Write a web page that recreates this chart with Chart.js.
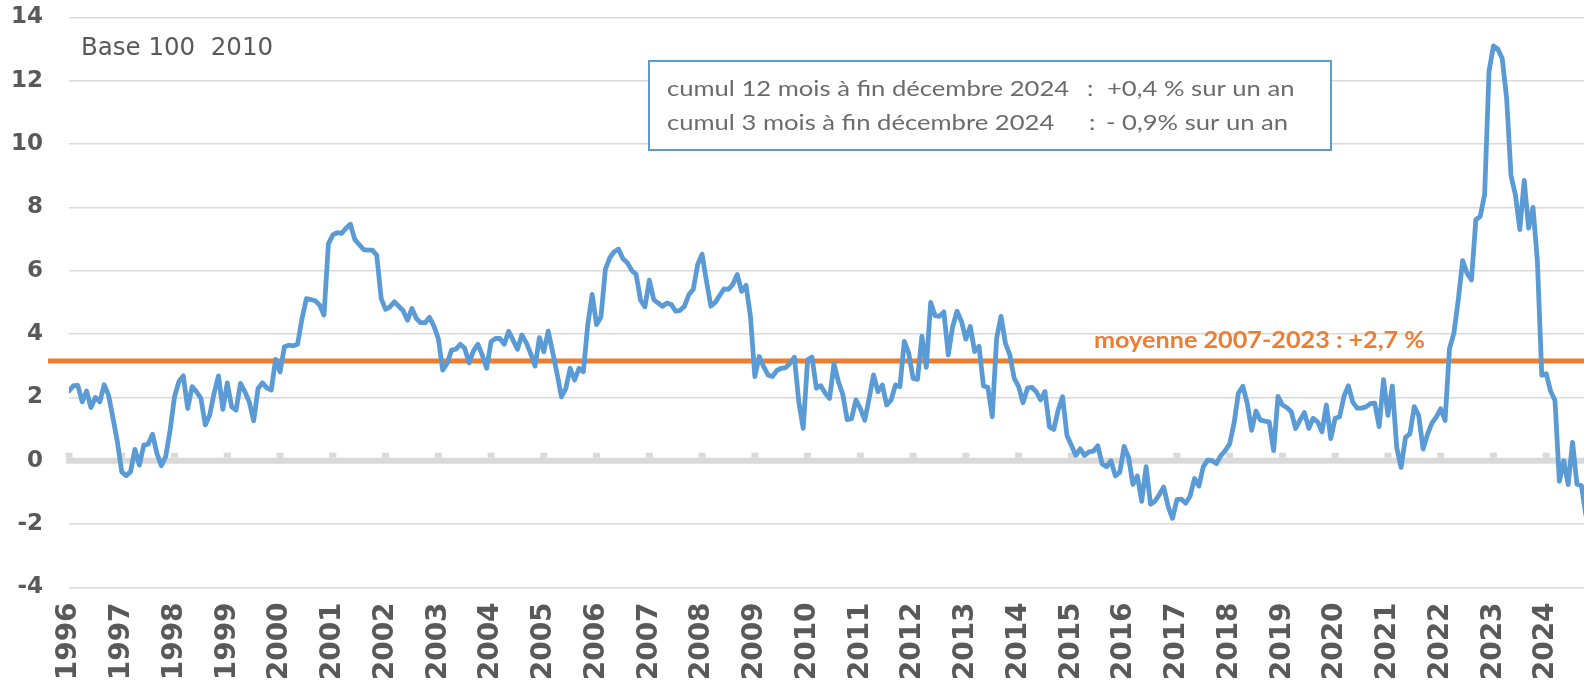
<!DOCTYPE html>
<html><head><meta charset="utf-8">
<script src="https://cdn.jsdelivr.net/npm/chart.js@4.4.1/dist/chart.umd.min.js"></script>
<style>html,body{margin:0;padding:0;background:#fff;overflow:hidden}#wrap{position:relative;width:1584px;height:684px}</style>
</head><body><div id="wrap"><canvas id="c" width="1584" height="684"></canvas></div>
<script>
// ---- DATA ----
const yearLabels = ['1996','1997','1998','1999','2000','2001','2002','2003','2004','2005','2006','2007','2008','2009','2010','2011','2012','2013','2014','2015','2016','2017','2018','2019','2020','2021','2022','2023','2024'];
const yTicks = [-4,-2,0,2,4,6,8,10,12,14];
// monthly values, January 1996 onwards
const monthlyValues = [
 2.2, 2.37, 2.38, 1.86, 2.2, 1.68, 2.0, 1.86, 2.4, 2.07, 1.35, 0.6,
 -0.35, -0.47, -0.35, 0.36, -0.14, 0.49, 0.52, 0.84, 0.23, -0.16, 0.13, 0.97,
 2.02, 2.5, 2.68, 1.65, 2.34, 2.18, 1.97, 1.13, 1.44, 2.13, 2.68, 1.62,
 2.46, 1.7, 1.6, 2.44, 2.18, 1.86, 1.26, 2.28, 2.46, 2.3, 2.23, 3.2,
 2.8, 3.6, 3.65, 3.63, 3.68, 4.49, 5.12, 5.09, 5.05, 4.92, 4.6, 6.85,
 7.13, 7.2, 7.18, 7.34, 7.47, 6.99, 6.83, 6.67, 6.65, 6.65, 6.49, 5.13,
 4.78, 4.86, 5.02, 4.88, 4.74, 4.44, 4.81, 4.49, 4.36, 4.36, 4.53, 4.25,
 3.86, 2.86, 3.07, 3.49, 3.52, 3.68, 3.55, 3.09, 3.47, 3.68, 3.34, 2.92,
 3.76, 3.86, 3.86, 3.68, 4.09, 3.81, 3.52, 3.97, 3.73, 3.39, 2.99, 3.89,
 3.44, 4.09, 3.44, 2.76, 2.02, 2.28, 2.92, 2.55, 2.92, 2.81, 4.3, 5.25,
 4.3, 4.54, 6.04, 6.41, 6.6, 6.68, 6.38, 6.25, 6.01, 5.88, 5.07, 4.86,
 5.7, 5.09, 4.98, 4.88, 4.98, 4.93, 4.72, 4.75, 4.88, 5.25, 5.41, 6.2,
 6.52, 5.67, 4.88, 5.0, 5.22, 5.43, 5.41, 5.57, 5.88, 5.35, 5.54, 4.56,
 2.66, 3.29, 2.97, 2.71, 2.66, 2.85, 2.92, 2.94, 3.08, 3.27, 1.86, 1.02,
 3.19, 3.27, 2.29, 2.37, 2.13, 1.97, 3.06, 2.5, 2.1, 1.3, 1.33, 1.92,
 1.65, 1.28, 1.97, 2.71, 2.18, 2.39, 1.76, 1.92, 2.39, 2.34, 3.77, 3.4,
 2.6, 2.57, 3.93, 2.95, 5.0, 4.58, 4.56, 4.7, 3.34, 4.24, 4.72, 4.4,
 3.84, 4.24, 3.45, 3.61, 2.36, 2.32, 1.39, 3.87, 4.56, 3.71, 3.34, 2.6,
 2.34, 1.83, 2.29, 2.32, 2.18, 1.92, 2.18, 1.07, 0.99, 1.6, 2.02, 0.8,
 0.49, 0.17, 0.38, 0.17, 0.28, 0.3, 0.47, -0.1, -0.19, 0.0, -0.48, -0.37,
 0.45, 0.11, -0.75, -0.48, -1.28, -0.19, -1.37, -1.28, -1.07, -0.83, -1.44, -1.82,
 -1.23, -1.21, -1.34, -1.12, -0.56, -0.8, -0.19, 0.02, 0.0, -0.09, 0.16, 0.32,
 0.53, 1.18, 2.14, 2.35, 1.82, 0.96, 1.57, 1.28, 1.25, 1.23, 0.32, 2.03,
 1.76, 1.68, 1.55, 1.02, 1.28, 1.52, 1.02, 1.34, 1.23, 0.91, 1.76, 0.7,
 1.34, 1.39, 2.03, 2.37, 1.85, 1.66, 1.66, 1.7, 1.8, 1.82, 1.08, 2.56,
 1.43, 2.36, 0.42, -0.21, 0.74, 0.85, 1.71, 1.43, 0.37, 0.83, 1.19, 1.38,
 1.64, 1.27, 3.54, 4.02, 5.08, 6.32, 5.92, 5.71, 7.61, 7.72, 8.41, 12.3,
 13.1, 13.0, 12.7, 11.45, 9.0, 8.4, 7.3, 8.85, 7.35, 8.0, 6.3, 2.7,
 2.75, 2.2, 1.9, -0.65, 0.0, -0.75, 0.58, -0.74, -0.78, -1.7
];
const meanValue = 3.15;
const meanLabel = 'moyenne 2007-2023 : +2,7 %';
const baseLabel = 'Base 100  2010';
const boxLines = [
  ['cumul 12 mois à fin décembre 2024', ':', '+0,4 % sur un an'],
  ['cumul 3 mois à fin décembre 2024', ':', '- 0,9% sur un an']
];

// ---- STYLE ----
const BLUE = '#5B9BD5', ORANGE = '#ED7D31', GRID = '#D9D9D9', TXT = '#595959';
const X_MAX = 344.6;

function stretchText(ctx, text, x, y, sx) {
  ctx.save();
  ctx.translate(x, y);
  ctx.scale(sx, 1);
  ctx.fillText(text, 0, 0);
  ctx.restore();
}

const overlay = {
  id: 'overlay',
  beforeDatasetsDraw(chart) {
    const {ctx, chartArea, scales: {x, y}} = chart;
    ctx.save();
    const y0 = y.getPixelForValue(0);
    ctx.fillStyle = GRID;
    ctx.fillRect(chartArea.left - 3, y0 - 3, chartArea.right - chartArea.left + 3, 6);
    x.ticks.forEach(t => {
      const px = x.getPixelForValue(t.value);
      ctx.fillRect(px - 3.5, y0 - 8, 7, 5);
    });
    const ym = y.getPixelForValue(meanValue);
    ctx.fillStyle = ORANGE;
    ctx.fillRect(48, ym - 2.5, chart.width - 48, 5);
    ctx.restore();
  },
  afterDraw(chart) {
    const {ctx, scales: {y}} = chart;
    ctx.save();
    ctx.textBaseline = 'middle';
    ctx.textAlign = 'left';
    // mean label
    ctx.fillStyle = ORANGE;
    ctx.font = 'bold 22px Lato';
    stretchText(ctx, meanLabel, 1094, y.getPixelForValue(meanValue) - 20, 331 / ctx.measureText(meanLabel).width);
    // base label
    ctx.fillStyle = TXT;
    ctx.font = '24.5px "DejaVu Sans"';
    ctx.fillText(baseLabel, 81, 49);
    // box
    ctx.fillStyle = '#fff';
    ctx.fillRect(649, 61, 682, 89);
    ctx.strokeStyle = BLUE;
    ctx.lineWidth = 2;
    ctx.strokeRect(649, 61, 682, 89);
    ctx.fillStyle = '#6B6B6B';
    ctx.font = '21px Lato';
    const xs = [[667, 1087, 1107], [667, 1089, 1106]];
    const ys = [89, 123];
    boxLines.forEach((parts, i) => {
      parts.forEach((p, j) => stretchText(ctx, p, xs[i][j], ys[i], 1.22));
    });
    ctx.restore();
  }
};

new Chart(document.getElementById('c'), {
  type: 'line',
  data: {
    datasets: [{
      data: monthlyValues.map((v, i) => ({x: i, y: v})),
      borderColor: BLUE,
      borderWidth: 4.8,
      pointRadius: 0,
      tension: 0,
      fill: false,
      borderJoinStyle: 'round',
      borderCapStyle: 'round'
    }]
  },
  options: {
    responsive: false,
    animation: false,
    devicePixelRatio: 1,
    layout: {padding: {top: 17.4, right: 0, left: 0, bottom: 0}},
    plugins: {legend: {display: false}, tooltip: {enabled: false}},
    scales: {
      x: {
        type: 'linear', min: 0, max: X_MAX,
        afterBuildTicks: s => { s.ticks = yearLabels.map((l, i) => ({value: i * 12})); },
        afterFit: s => { s.height = 96.6; s.paddingLeft = 0; s.paddingRight = 0; },
        ticks: {
          callback: v => yearLabels[Math.round(v / 12)],
          minRotation: 90, maxRotation: 90, autoSkip: false,
          font: {family: 'DejaVu Sans', size: 28, weight: 'bold'},
          color: TXT, padding: 15
        },
        grid: {display: false, drawTicks: false},
        border: {display: false}
      },
      y: {
        min: -4, max: 14,
        afterBuildTicks: s => { s.ticks = yTicks.map(v => ({value: v})); },
        afterFit: s => { s.width = 69; s.paddingTop = 0; s.paddingBottom = 0; },
        ticks: {
          font: {family: 'DejaVu Sans', size: 23, weight: 'bold'},
          color: TXT, padding: 26
        },
        grid: {
          color: GRID,
          lineWidth: c => (c.tick && c.tick.value === 0) ? 0 : 1.5,
          drawTicks: false
        },
        border: {display: false}
      }
    }
  },
  plugins: [overlay]
});
</script></body></html>
